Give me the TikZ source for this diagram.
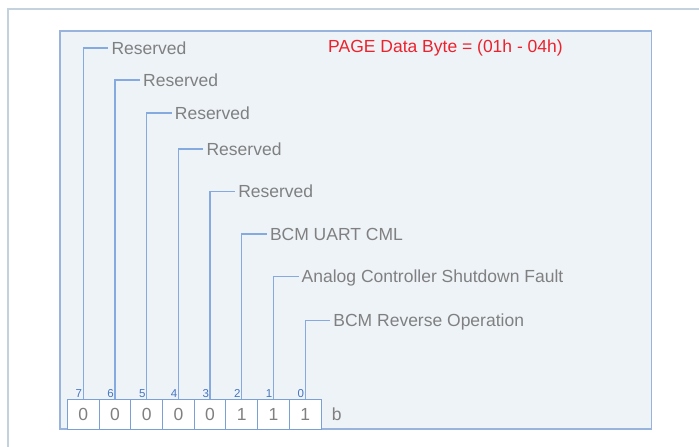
\documentclass[tikz,border=0pt]{standalone}
\usepackage{fontspec}
\setmainfont{Liberation Sans}
\usepackage{tikz}
\definecolor{framegray}{RGB}{196,210,222}
\definecolor{panelfill}{RGB}{238,243,248}
\definecolor{panelline}{RGB}{152,180,220}
\definecolor{wireblue}{RGB}{132,170,224}
\definecolor{boxblue}{RGB}{122,160,214}
\definecolor{txtgray}{RGB}{128,128,128}
\definecolor{numblue}{RGB}{70,118,192}
\definecolor{titlered}{RGB}{236,34,44}

\begin{document}
\begin{tikzpicture}[x=1pt, y=-1pt,
  lbl/.style={anchor=west, inner sep=3pt, text height=12.5pt, text depth=0pt, text=txtgray},
  bitbox/.style={draw=boxblue, line width=1pt, fill=white, minimum width=31.7pt,
    minimum height=29.7pt, inner sep=0pt, text=txtgray},
  bitnum/.style={anchor=south east, inner sep=1pt, text=numblue, font=\fontsize{11.5}{13}\selectfont},
  wire/.style={draw=wireblue, line width=1.3pt}]

  \fontsize{17.5}{20}\selectfont

  \newcommand\X{31.7};
  \newcommand\Y{414.2};

  \useasboundingbox (0,0) rectangle (699,447);

  \draw[framegray, line width=1.5pt] (8,447) -- (8,9) -- (699,9); % outer frame
  \draw[panelline, fill=panelfill, line width=1.2pt] (60,31) rectangle (651.5,429);

  \node[anchor=west, inner sep=0pt, text=titlered] (title) at (328,48) {PAGE Data Byte = (01h - 04h)};

  % the byte
  \node[bitbox] (b7) at (83.3+0*\X, \Y) {0};
  \node[bitbox] (b6) at (83.3+1*\X, \Y) {0};
  \node[bitbox] (b5) at (83.3+2*\X, \Y) {0};
  \node[bitbox] (b4) at (83.3+3*\X, \Y) {0};
  \node[bitbox] (b3) at (83.3+4*\X, \Y) {0};
  \node[bitbox] (b2) at (83.3+5*\X, \Y) {1};
  \node[bitbox] (b1) at (83.3+6*\X, \Y) {1};
  \node[bitbox] (b0) at (83.3+7*\X, \Y) {1};
  \node[text=txtgray] (unit) at (336.7, \Y) {b};

  \node[bitnum] (n7) at (b7.north) {7};
  \node[bitnum] (n6) at (b6.north) {6};
  \node[bitnum] (n5) at (b5.north) {5};
  \node[bitnum] (n4) at (b4.north) {4};
  \node[bitnum] (n3) at (b3.north) {3};
  \node[bitnum] (n2) at (b2.north) {2};
  \node[bitnum] (n1) at (b1.north) {1};
  \node[bitnum] (n0) at (b0.north) {0};

  % bit names
  \node[lbl] (l7) at (108.3+0*\X, 48) {Reserved};
  \node[lbl] (l6) at (108.3+1*\X, 80) {Reserved};
  \node[lbl] (l5) at (108.3+2*\X, 113) {Reserved};
  \node[lbl] (l4) at (108.3+3*\X, 149) {Reserved};
  \node[lbl] (l3) at (108.3+4*\X, 191.5) {Reserved};
  \node[lbl] (l2) at (108.3+5*\X, 234) {BCM UART CML};
  \node[lbl] (l1) at (108.3+6*\X, 276.7) {Analog Controller Shutdown Fault};
  \node[lbl] (l0) at (108.3+7*\X, 320.7) {BCM Reverse Operation};

  \draw[wire] (b7.north) |- (l7.west);
  \draw[wire] (b6.north) |- (l6.west);
  \draw[wire] (b5.north) |- (l5.west);
  \draw[wire] (b4.north) |- (l4.west);
  \draw[wire] (b3.north) |- (l3.west);
  \draw[wire] (b2.north) |- (l2.west);
  \draw[wire] (b1.north) |- (l1.west);
  \draw[wire] (b0.north) |- (l0.west);

\end{tikzpicture}
\end{document}
